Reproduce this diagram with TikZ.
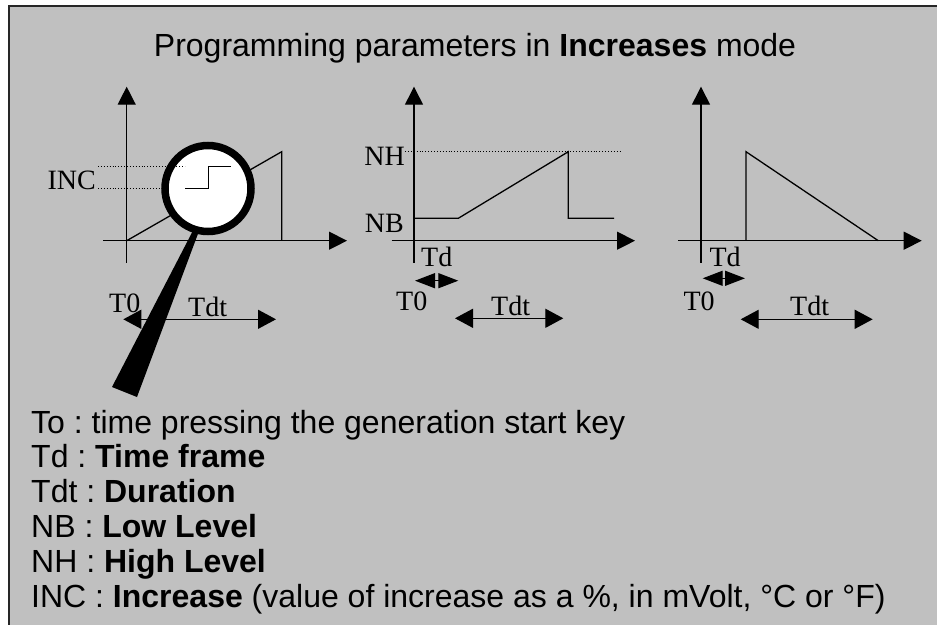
\documentclass[tikz,border=0pt]{standalone}
\usepackage{fontspec}
\setmainfont{Liberation Serif}
\setsansfont{Liberation Sans}
\usetikzlibrary{arrows.meta}
\definecolor{panel}{RGB}{192,192,192}
\frenchspacing

\begin{document}
\begin{tikzpicture}[
    x=1pt, y=-1pt,
    axis/.style={line width=1.3pt, -{Triangle[length=18pt,width=18pt]}},
    curve/.style={line width=1.3pt},
    guide/.style={dotted, line width=0.9pt},
    span/.style={line width=1.3pt, {Triangle[length=18pt,width=19pt]}-{Triangle[length=18pt,width=19pt]}},
    tdspan/.style={line width=1.3pt, {Triangle[length=20pt,width=15pt]}-{Triangle[length=20pt,width=15pt]}},
    lbl/.style={inner sep=0pt, font=\fontsize{28}{30}\selectfont},
    legend/.style={inner sep=0pt, align=left, font=\sffamily\fontsize{32}{34.8}\selectfont}
]
\useasboundingbox (0,0) rectangle (937,624);
\clip (0,0) rectangle (937,624);
\fill[white] (0,0) rectangle (937,624);
\draw[fill=panel, draw=black!85, line width=2.4pt] (8.7,6) rectangle (960,650);

% title
\node[inner sep=0pt, anchor=base, font=\sffamily\fontsize{32}{34}\selectfont] (title) at (475,56)
    {Programming parameters in \textbf{Increases} mode};

% axes of the three graphs
\foreach \ox/\xl/\xr in {126.7/103/347, 414/391.7/635, 701/678.3/921.7} {
    \draw[axis] (\ox,262.7) -- (\ox,86.7);
    \draw[axis] (\xl,240.7) -- (\xr,240.7);
}

% graph 1: ramp with magnifier
\fill (193.3,230) -- (199.4,230) -- (137,397) -- (112,387) -- cycle;
\draw[curve] (126.7,240.7) -- (281.7,151.7) -- (281.7,240.7);
\node[circle, draw, fill=white, line width=7.5pt, minimum size=86pt, inner sep=0pt] (lens) at (208,188.5) {};
\draw[line width=1.5pt] (185,188.3) -- (208.3,188.3) -- (208.3,166.7) -- (230.7,166.7);
\draw[guide] (98,166.7) -- (185,166.7);
\draw[guide] (98,188.3) -- (161,188.3);
\node[lbl, anchor=base east] (inc) at (96,189) {INC};
\draw[span] (123.3,319.3) -- (276,319.3);
\node[lbl, anchor=base west] (t0a) at (109,312.7) {T0};
\node[lbl, anchor=base west] (tdta) at (188,316.7) {Tdt};

% graph 2: low level, ramp to high level
\draw[guide] (405,151.7) -- (620.7,151.7);
\draw[curve] (415,218.3) -- (458.3,218.3) -- (568.3,151.7) -- (568.3,218.3) -- (614,218.3);
\node[lbl, anchor=base east] (nh) at (405,165) {NH};
\node[lbl, anchor=base east] (nb) at (404,232.7) {NB};
\node[lbl, anchor=base west] (tdb) at (421,266) {Td};
\draw[tdspan] (415,280.7) -- (458.3,280.7);
\node[lbl, anchor=base west] (t0b) at (396,310.7) {T0};
\draw[span] (455,318.3) -- (563.3,318.3);
\node[lbl, anchor=base west] (tdtb) at (491,315) {Tdt};

% graph 3: step then decreasing ramp
\draw[curve] (746,240.7) -- (746,151.7) -- (878.3,240.7);
\node[lbl, anchor=base west] (tdc) at (709.3,266) {Td};
\draw[tdspan] (702.7,278.3) -- (745,278.3);
\node[lbl, anchor=base west] (t0c) at (683.3,310.7) {T0};
\draw[span] (740.7,319.3) -- (872.7,319.3);
\node[lbl, anchor=base west] (tdtc) at (790,315) {Tdt};

% legend (base = last line)
\node[legend, anchor=base west] (key) at (31,607) {%
    To : time pressing the generation start key\\
    Td : \textbf{Time frame}\\
    Tdt : \textbf{Duration}\\
    NB : \textbf{Low Level}\\
    NH : \textbf{High Level}\\
    INC : \textbf{Increase} (value of increase as a \%, in mVolt, °C or °F)};
\end{tikzpicture}
\end{document}
